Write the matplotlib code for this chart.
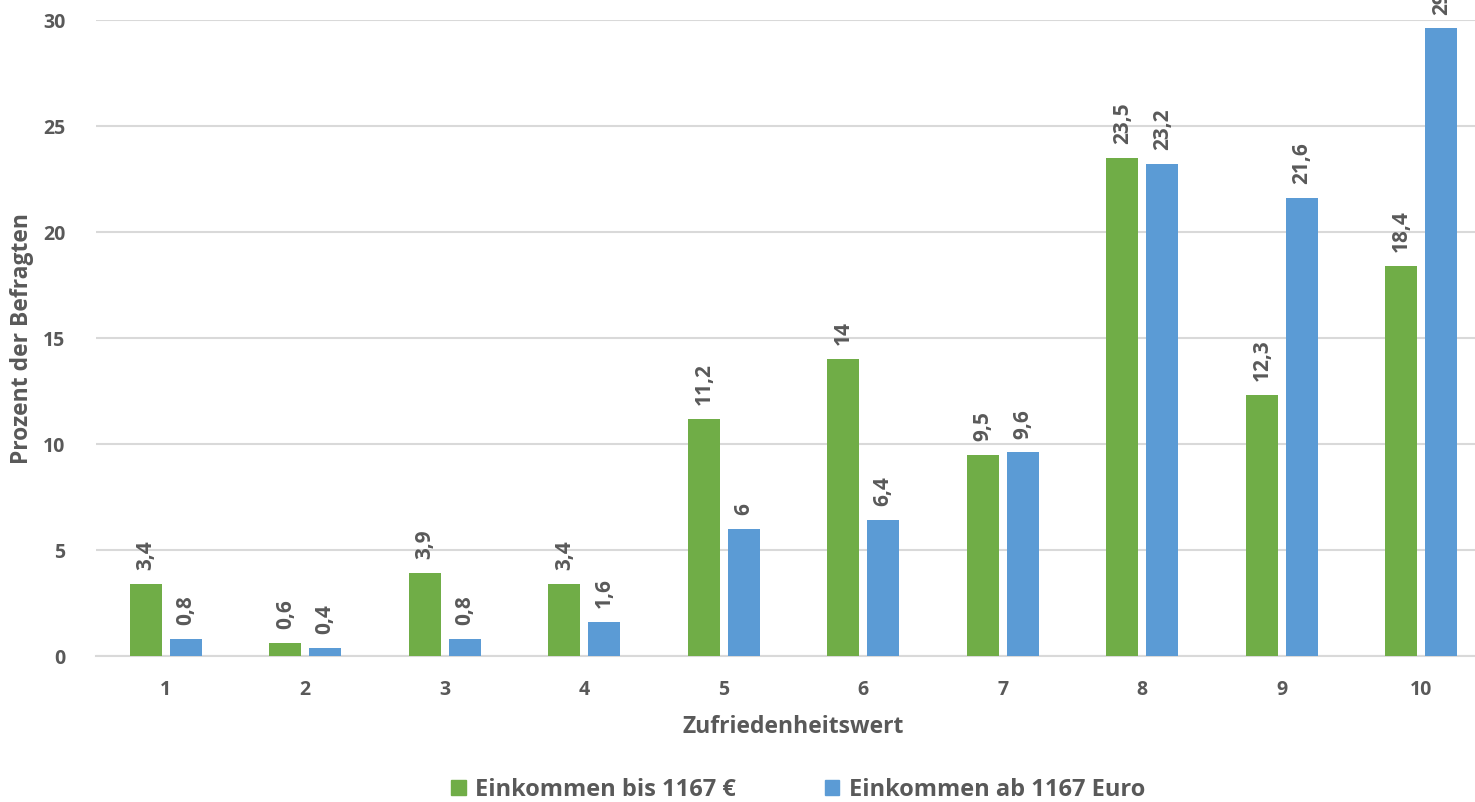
import matplotlib
matplotlib.use("Agg")
import matplotlib.pyplot as plt
from matplotlib.patches import Patch
import numpy as np

categories = ["1", "2", "3", "4", "5", "6", "7", "8", "9", "10"]
green_vals = [3.4, 0.6, 3.9, 3.4, 11.2, 14, 9.5, 23.5, 12.3, 18.4]
blue_vals = [0.8, 0.4, 0.8, 1.6, 6, 6.4, 9.6, 23.2, 21.6, 29.6]
series_names = ["Einkommen bis 1167 €", "Einkommen ab 1167 Euro"]
y_ticks = [0, 5, 10, 15, 20, 25, 30]

GREEN = "#70ad47"
BLUE = "#5b9bd5"
TXT = "#595959"
GRID = "#d9d9d9"

plt.rcParams['font.family'] = ['Open Sans', 'DejaVu Sans']
plt.rcParams['font.weight'] = 'bold'

fig = plt.figure(figsize=(14.75, 8.02), dpi=100)
ax = fig.add_axes([96/1475, 146/802, 1395/1475, 636/802])

x = np.arange(len(categories))
w = 0.23
off = 0.143
b1 = ax.bar(x - off, green_vals, w, color=GREEN, zorder=3)
b2 = ax.bar(x + off, blue_vals, w, color=BLUE, zorder=3)

def fmt(v):
    s = f"{v:g}"
    return s.replace(".", ",")

for bars, vals in ((b1, green_vals), (b2, blue_vals)):
    for r, v in zip(bars, vals):
        ax.annotate(fmt(v), (r.get_x() + r.get_width() / 2, v),
                    xytext=(0, 10), textcoords="offset points",
                    rotation=90, ha="center", va="bottom",
                    fontsize=15, color=TXT, fontweight="bold",
                    annotation_clip=False)

ax.set_xlim(-0.5, len(categories) - 0.5)
ax.set_ylim(0, 30)
ax.set_yticks(y_ticks)
ax.set_xticks(x)
ax.set_xticklabels(categories)
ax.tick_params(axis="both", length=0, labelsize=14, labelcolor=TXT)
ax.tick_params(axis="y", pad=22)
ax.tick_params(axis="x", pad=17)
ax.grid(axis="y", color=GRID, linewidth=1.5, zorder=0)
for s in ["top", "right", "left"]:
    ax.spines[s].set_visible(False)
ax.spines["bottom"].set_color(GRID)
ax.spines["bottom"].set_linewidth(1.5)

ax.set_xlabel("Zufriedenheitswert", fontsize=16.5, color=TXT, fontweight="bold", labelpad=11)
ax.set_ylabel("Prozent der Befragten", fontsize=16.5, color=TXT, fontweight="bold")
ax.yaxis.set_label_coords(-0.0445, 0.5)

handles = [Patch(color=GREEN), Patch(color=BLUE)]
fig.legend(handles, series_names, loc="center", bbox_to_anchor=(798/1475, 1 - 790/802),
           ncol=2, frameon=False, fontsize=17, labelcolor=TXT,
           handlelength=0.62, handleheight=0.62, handletextpad=0.4, columnspacing=3.75)

fig.savefig("out.png", dpi=100)
